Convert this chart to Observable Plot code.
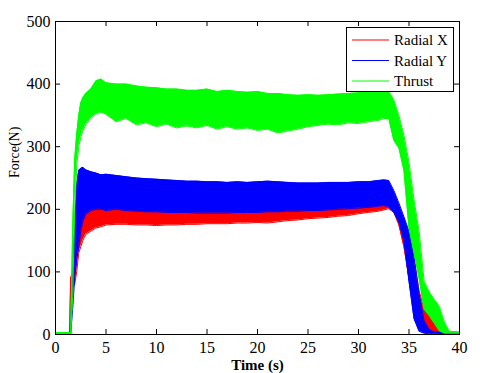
<!DOCTYPE html>
<html>
<head>
<meta charset="utf-8">
<script src="https://cdn.jsdelivr.net/npm/d3@7"></script>
<script src="https://cdn.jsdelivr.net/npm/@observablehq/plot@0.6"></script>
<style>
  html, body { margin: 0; padding: 0; background: #fff; }
  #wrap { position: relative; width: 500px; height: 373px; }
</style>
</head>
<body>
<div id="wrap"></div>
<script>
// Time samples (s)
const time = [0, 1.4, 1.5, 1.7, 1.9, 2.1, 2.3, 2.5, 2.7, 3, 3.5, 4, 4.5, 5,
  6, 7, 8, 9, 10, 11, 12, 13, 14, 15, 16, 17, 18, 19, 20, 21, 22, 23, 24, 25, 26, 27, 28, 29, 30, 31, 32,
  32.5, 33, 33.5, 34, 34.5, 35, 35.5, 36, 36.5, 37, 37.5, 38, 38.5, 39, 40];

// Radial X (red) – upper / lower envelope of the oscillation (N)
const radialXHigh = [2, 2, 90, 100, 120, 160, 195, 205, 210, 212, 215, 222, 215, 212,
  213, 214, 212, 213, 212, 213, 212, 213, 212, 213, 212, 213, 213, 214, 214, 214, 215, 215, 216, 216, 217, 218, 218, 219, 220, 220, 221,
  222, 218, 205, 200, 185, 160, 120, 70, 40, 35, 25, 5, 1, 1, 1];
const radialXLow = [0, 0, 45, 75, 80, 100, 130, 140, 150, 160, 165, 170, 172, 175,
  176, 176, 175, 175, 174, 175, 175, 176, 176, 177, 177, 177, 178, 178, 179, 178, 180, 182, 183, 185, 186, 187, 189, 190, 193, 195, 197,
  199, 201, 195, 175, 140, 90, 40, 10, 3, 2, 1, 0, 0, 0, 0];

// Radial Y (blue)
const radialYHigh = [2, 2, 2, 100, 170, 240, 262, 265, 267, 263, 260, 258, 255, 256,
  254, 252, 250, 249, 248, 247, 246, 245, 245, 244, 244, 243, 244, 243, 244, 245, 244, 243, 242, 242, 242, 243, 243, 243, 244, 244, 246,
  247, 246, 230, 210, 188, 165, 125, 65, 22, 8, 4, 3, 2, 2, 2];
const radialYLow = [0, 0, 0, 40, 90, 120, 140, 165, 180, 192, 198, 200, 200, 198,
  200, 198, 197, 196, 196, 195, 195, 195, 194, 194, 194, 194, 195, 195, 195, 196, 196, 197, 197, 198, 198, 199, 200, 201, 202, 203, 205,
  206, 204, 195, 180, 150, 85, 25, 5, 2, 1, 1, 1, 0, 0, 0];

// Thrust (green)
const thrustHigh = [3, 3, 3, 170, 280, 320, 350, 370, 378, 385, 392, 405, 408, 402,
  400, 400, 397, 395, 394, 392, 392, 390, 390, 392, 388, 390, 388, 387, 388, 385, 385, 383, 382, 383, 382, 383, 384, 385, 386, 388, 392,
  395, 388, 375, 350, 318, 275, 215, 165, 85, 68, 56, 45, 20, 5, 4];
const thrustLow = [0, 0, 0, 60, 200, 270, 300, 315, 325, 335, 345, 352, 355, 352,
  340, 345, 335, 338, 332, 336, 330, 333, 330, 334, 328, 332, 328, 330, 326, 328, 322, 325, 328, 332, 334, 336, 335, 338, 337, 340, 342,
  345, 345, 310, 298, 262, 170, 130, 90, 40, 30, 18, 6, 2, 2, 2];

const seriesNames = ["Radial X", "Radial Y", "Thrust"];
const seriesColors = ["#ff0000", "#0000ff", "#00ff00"];
const xTicks = [0, 5, 10, 15, 20, 25, 30, 35, 40];
const yTicks = [0, 100, 200, 300, 400, 500];

const highs = [radialXHigh, radialYHigh, thrustHigh];
const lows = [radialXLow, radialYLow, thrustLow];
const tables = seriesNames.map((name, s) => time.map((t, i) => ({t, hi: highs[s][i], lo: lows[s][i]})));

const marks = [];
tables.forEach((rows, s) => {
  const c = seriesColors[s];
  marks.push(Plot.areaY(rows, {x: "t", y1: "lo", y2: "hi", fill: c, curve: "linear"}));
  marks.push(Plot.lineY(rows, {x: "t", y: "hi", stroke: c, strokeWidth: 1}));
  marks.push(Plot.lineY(rows, {x: "t", y: "lo", stroke: c, strokeWidth: 1}));
});

const serif = "'Liberation Serif', 'Times New Roman', 'DejaVu Serif', serif";

const chart = Plot.plot({
  width: 500,
  height: 373,
  marginLeft: 55,
  marginRight: 41,
  marginTop: 21,
  marginBottom: 39,
  style: {fontFamily: serif, fontSize: "16px", color: "#000", background: "#fff"},
  x: {domain: [0, 40], ticks: xTicks, label: null},
  y: {domain: [0, 500], ticks: yTicks, label: null},
  marks: [
    ...marks,
    Plot.frame({stroke: "#000", strokeWidth: 1}),
    Plot.tickX(xTicks, {x: d => d, insetTop: 308, stroke: "#000"}),
    Plot.tickX(xTicks, {x: d => d, insetBottom: 308, stroke: "#000"}),
    Plot.tickY(yTicks, {y: d => d, insetRight: 399, stroke: "#000"}),
    Plot.tickY(yTicks, {y: d => d, insetLeft: 399, stroke: "#000"}),
    Plot.axisX({ticks: xTicks, tickSize: 0, tickPadding: 7, label: null, fontSize: 16, fontFamily: serif}),
    Plot.axisY({ticks: yTicks, tickSize: 0, tickPadding: 5, label: null, fontSize: 16, fontFamily: serif}),
    Plot.text(["Time (s)"], {frameAnchor: "bottom", dy: 31, lineAnchor: "middle", text: d => d, fontSize: 15, fontWeight: "bold", fontFamily: serif}),
    Plot.text(["Force(N)"], {frameAnchor: "left", dx: -41, rotate: -90, text: d => d, fontSize: 14, fontFamily: serif})
  ]
});
document.getElementById("wrap").appendChild(chart);

// Legend box drawn into the chart's SVG
const svg = d3.select(chart.tagName.toLowerCase() === "svg" ? chart : chart.querySelector("svg"));
const lg = svg.append("g").attr("class", "legend").attr("text-anchor", "start");
lg.append("rect").attr("x", 346.5).attr("y", 27.5).attr("width", 107).attr("height", 64)
  .attr("fill", "#fff").attr("stroke", "#000").attr("stroke-width", 1);
seriesNames.forEach((name, s) => {
  const cy = 40 + s * 20.5;
  lg.append("line").attr("x1", 352).attr("x2", 389).attr("y1", cy).attr("y2", cy)
    .attr("stroke", seriesColors[s]).attr("stroke-width", 1.2);
  lg.append("text").attr("x", 394).attr("y", cy).attr("dy", "0.35em")
    .attr("text-anchor", "start")
    .attr("font-family", serif).attr("font-size", 15).attr("fill", "#000").text(name);
});
</script>
</body>
</html>
